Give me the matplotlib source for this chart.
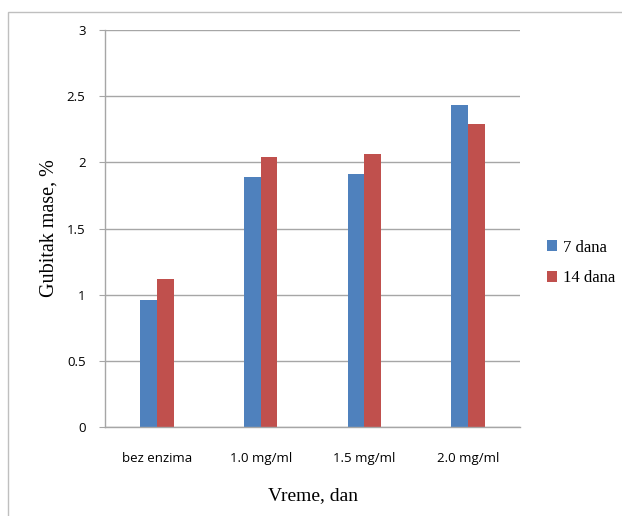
import numpy as np
import matplotlib
matplotlib.use('Agg')
import matplotlib.pyplot as plt
from matplotlib.patches import Rectangle

categories = ['bez enzima', '1.0 mg/ml', '1.5 mg/ml', '2.0 mg/ml']
dana_7 = [0.96, 1.89, 1.91, 2.43]
dana_14 = [1.12, 2.04, 2.06, 2.29]
series_names = ['7 dana', '14 dana']
y_ticks = [0, 0.5, 1, 1.5, 2, 2.5, 3]
y_tick_labels = ['0', '0.5', '1', '1.5', '2', '2.5', '3']

blue = '#4F81BD'
red = '#C0504D'
grid_col = '#A6A6A6'
sans = ['Open Sans', 'DejaVu Sans']
serif = ['Liberation Serif', 'DejaVu Serif']

fig = plt.figure(figsize=(6.22, 5.16), dpi=100)
# outer chart border
fig.patches.append(Rectangle((8 / 622, -0.1), 1.1, (516 - 12) / 516 + 0.1,
                             transform=fig.transFigure, fill=False,
                             edgecolor='#BFBFBF', linewidth=1))

ax = fig.add_axes([105 / 622, (516 - 427) / 516, 415 / 622, 397 / 516])

x = np.arange(len(categories))
w = 0.161
ax.bar(x - w / 2, dana_7, w, color=blue, label=series_names[0], zorder=3)
ax.bar(x + w / 2, dana_14, w, color=red, label=series_names[1], zorder=3)

ax.set_xlim(-0.5, len(categories) - 0.5)
ax.set_ylim(0, 3)
ax.set_yticks(y_ticks)
ax.set_yticklabels(y_tick_labels, fontfamily=sans, fontsize=9.5)
ax.set_xticks(x)
ax.set_xticklabels(categories, fontfamily=sans, fontsize=9.5)
ax.tick_params(axis='x', length=0, pad=18)
ax.tick_params(axis='y', length=4, color=grid_col, pad=10)
ax.yaxis.grid(True, color=grid_col, linewidth=1, zorder=0)
for s in ['top', 'right']:
    ax.spines[s].set_visible(False)
for s in ['left', 'bottom']:
    ax.spines[s].set_color(grid_col)
    ax.spines[s].set_linewidth(1)
    ax.spines[s].set_zorder(4)

ax.set_ylabel('Gubitak mase, %', fontfamily=serif, fontsize=14.5, labelpad=6)
ax.set_xlabel('Vreme, dan', fontfamily=serif, fontsize=14, labelpad=16)

leg = ax.legend(loc='center left', bbox_to_anchor=(532 / 622, (516 - 263) / 516),
                bbox_transform=fig.transFigure, frameon=False,
                prop={'family': serif, 'size': 12}, handlelength=0.6,
                handleheight=0.6, handletextpad=0.35, labelspacing=0.9)

fig.savefig('out.png', dpi=100)
